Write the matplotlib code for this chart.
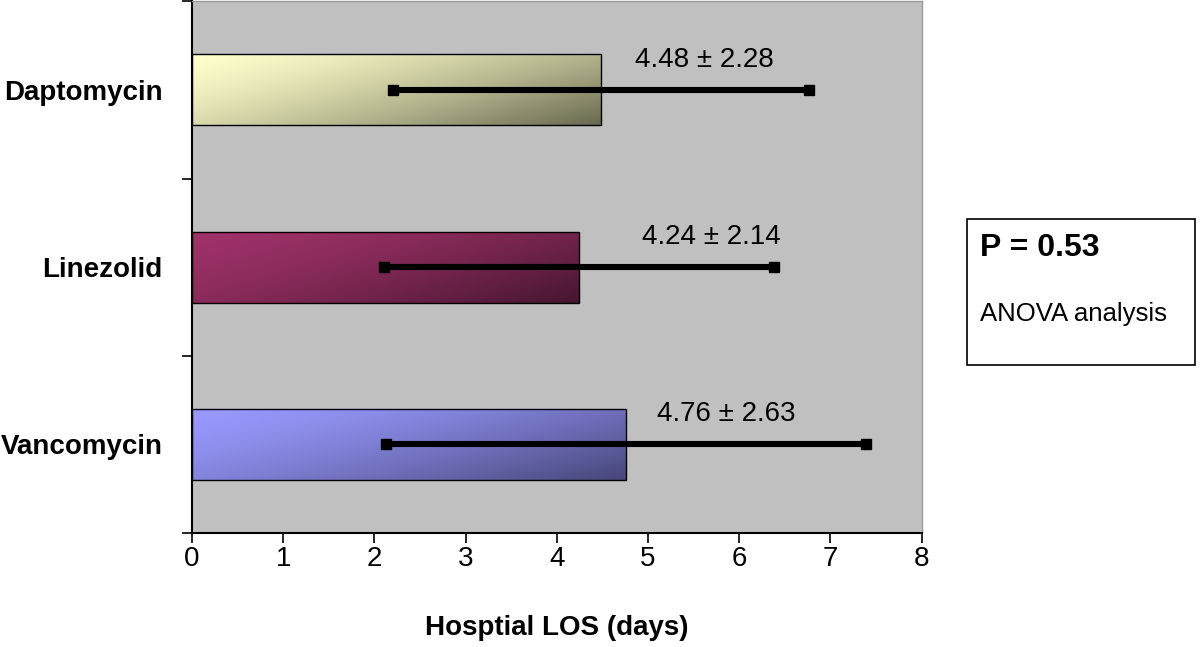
import numpy as np
import matplotlib.pyplot as plt
import matplotlib as mpl

plt.rcParams['font.family'] = ['Liberation Sans', 'DejaVu Sans']

# data
drugs = ['Daptomycin', 'Linezolid', 'Vancomycin']
los_mean = [4.48, 4.24, 4.76]
los_sd = [2.28, 2.14, 2.63]
p_value = 0.53

# gradient colours (light top-left -> dark bottom-right)
col_light = [(255, 255, 204), (160, 50, 105), (153, 153, 255)]
col_dark = [(105, 105, 80), (70, 22, 48), (70, 70, 120)]
label_x = [5.62, 5.69, 5.86]


def gradient_img(c0, c1, n=200, m=60):
    'diagonal gradient array, light in top-left corner'
    u = np.linspace(0, 1, n)[None, :]
    v = np.linspace(0, 1, m)[:, None]
    t = (0.62 * u + 0.38 * v) ** 1.4
    c0 = np.array(c0) / 255.
    c1 = np.array(c1) / 255.
    return c0[None, None, :] * (1 - t[..., None]) + c1[None, None, :] * t[..., None]


fig = plt.figure(figsize=(12, 6.47), dpi=100)
ax = fig.add_axes([0.16, 0.176, 0.608, 0.822])
ax.set_facecolor('#c0c0c0')

ypos = np.arange(len(drugs))
bar_h = 0.4
bars = ax.barh(ypos, los_mean, height=bar_h, color='none', edgecolor='black', linewidth=1.0, zorder=3)
for i, b in enumerate(bars):
    img = gradient_img(col_light[i], col_dark[i])
    im = ax.imshow(img, extent=[0, los_mean[i], ypos[i] + bar_h / 2, ypos[i] - bar_h / 2],
                   aspect='auto', zorder=2, interpolation='bilinear')
    im.set_clip_path(b)

# error bars with square caps
for i in range(len(drugs)):
    lo = los_mean[i] - los_sd[i]
    hi = los_mean[i] + los_sd[i]
    ax.plot([lo, hi], [ypos[i], ypos[i]], color='black', lw=4.4, solid_capstyle='butt', zorder=4)
    ax.plot([lo, hi], [ypos[i], ypos[i]], ls='none', marker='s', ms=7, color='black', zorder=5)
    ax.text(label_x[i], ypos[i] - 0.17, f'{los_mean[i]:.2f} \u00b1 {los_sd[i]:.2f}',
            ha='center', va='center', fontsize=20, zorder=6)

ax.set_xlim(0, 8)
ax.set_ylim(2.5, -0.5)
ax.set_xticks(range(0, 9))
ax.set_yticks(np.arange(-0.5, len(drugs), 1.0))
ax.set_yticklabels([])
ax.set_yticks(ypos, minor=True)
ax.set_yticklabels(drugs, minor=True, fontsize=20, fontweight='bold')
ax.tick_params(axis='y', which='minor', length=0, pad=21)
ax.tick_params(axis='both', which='major', direction='out', length=7, width=1.2, color='black')
ax.tick_params(axis='x', labelsize=20, pad=2)

for s in ['left', 'bottom']:
    ax.spines[s].set_color('black')
    ax.spines[s].set_linewidth(1.5)
for s in ['top', 'right']:
    ax.spines[s].set_color('#9a9a9a')
    ax.spines[s].set_linewidth(1.0)

ax.set_xlabel('Hosptial LOS (days)', fontsize=20, fontweight='bold', labelpad=31)

# statistics box
box = mpl.patches.Rectangle((0.806, 0.436), 0.19, 0.226, transform=fig.transFigure,
                            facecolor='white', edgecolor='black', linewidth=1.2)
fig.patches.append(box)
fig.text(0.8165, 0.616, f'P = {p_value}', fontsize=23, fontweight='bold', va='center')
fig.text(0.8165, 0.514, 'ANOVA analysis', fontsize=18.5, va='center')

fig.savefig('out.png', dpi=100)
